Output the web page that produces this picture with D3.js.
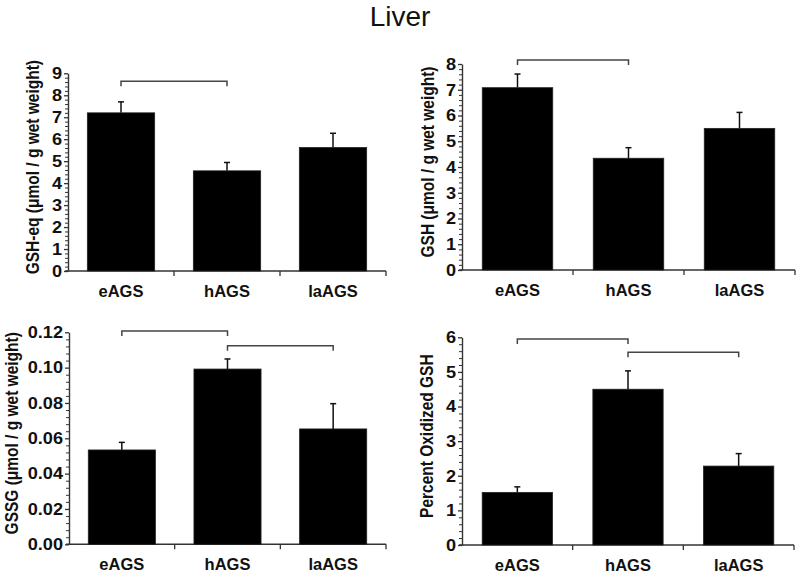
<!DOCTYPE html>
<html><head><meta charset="utf-8">
<script src="https://cdn.jsdelivr.net/npm/d3@7"></script>
<style>body{margin:0;background:#fff} svg{display:block}</style>
</head><body>
<svg id="chart" width="800" height="576"></svg>
<script>
// ---------- data ----------
const title = "Liver";
const categories = ["eAGS", "hAGS", "laAGS"];

const gshEqValues = [7.20, 4.56, 5.62];
const gshEqErrors = [0.50, 0.38, 0.65];
const gshEqTicks = [0, 1, 2, 3, 4, 5, 6, 7, 8, 9];
const gshEqBrackets = [["eAGS", "hAGS", 8.64]];
const gshEqLabel = "GSH-eq (\u03bcmol / g wet weight)";

const gshValues = [7.08, 4.34, 5.50];
const gshErrors = [0.53, 0.41, 0.62];
const gshTicks = [0, 1, 2, 3, 4, 5, 6, 7, 8];
const gshBrackets = [["eAGS", "hAGS", 8.16]];
const gshLabel = "GSH (\u03bcmol / g wet weight)";

const gssgValues = [0.0534, 0.0992, 0.0653];
const gssgErrors = [0.0043, 0.0057, 0.0143];
const gssgTicks = [0.00, 0.02, 0.04, 0.06, 0.08, 0.10, 0.12];
const gssgBrackets = [["eAGS", "hAGS", 0.1207], ["hAGS", "laAGS", 0.1124]];
const gssgLabel = "GSSG (\u03bcmol / g wet weight)";

const pctOxValues = [1.52, 4.50, 2.28];
const pctOxErrors = [0.16, 0.53, 0.36];
const pctOxTicks = [0, 1, 2, 3, 4, 5, 6];
const pctOxBrackets = [["eAGS", "hAGS", 5.95], ["hAGS", "laAGS", 5.57]];
const pctOxLabel = "Percent Oxidized GSH";

// ---------- drawing ----------
const svg = d3.select("#chart");
const FONT = "'Liberation Sans', Arial, Helvetica, sans-serif";
const AXIS = "#333";

svg.append("text")
  .attr("x", 400).attr("y", 26)
  .attr("text-anchor", "middle")
  .attr("font-family", FONT).attr("font-size", 28)
  .attr("fill", "#111")
  .text(title);

function drawPanel(cfg) {
  const {left, right, top, bottom, values, errors, ticks, fmt, brackets, label, labelX} = cfg;
  const g = svg.append("g");
  const x = d3.scaleBand().domain(categories).range([left, right])
    .paddingInner(0.365).paddingOuter(0.1825);
  const y = d3.scaleLinear().domain([0, ticks[ticks.length - 1]]).range([bottom, top]);

  // minor ticks
  const step = ticks[1] - ticks[0];
  const minor = d3.range(0, ticks.length - 1).flatMap(i => [1, 2, 3, 4].map(k => ticks[i] + step * k / 5));
  g.append("g").attr("transform", `translate(${left},0)`)
    .call(d3.axisLeft(y).tickValues(minor).tickSize(3).tickFormat(""))
    .call(a => a.select(".domain").remove())
    .call(a => a.selectAll("line").attr("stroke", AXIS).attr("stroke-width", 1));

  // major axis
  const ya = g.append("g").attr("transform", `translate(${left},0)`)
    .call(d3.axisLeft(y).tickValues(ticks).tickSize(4).tickPadding(3).tickFormat(fmt).tickSizeOuter(0));
  ya.select(".domain").attr("stroke", AXIS).attr("stroke-width", 1.4);
  ya.selectAll("line").attr("stroke", AXIS).attr("stroke-width", 1.3);
  ya.selectAll("text")
    .attr("x", 0)
    .attr("transform", "translate(-6,0) scale(1.1,1)")
    .attr("font-family", FONT).attr("font-size", 16.5)
    .attr("font-weight", "bold").attr("fill", "#111");

  // x axis
  g.append("line").attr("x1", left - 3).attr("x2", right).attr("y1", bottom).attr("y2", bottom)
    .attr("stroke", AXIS).attr("stroke-width", 1.4);
  const bounds = categories.slice(1).map(c => x(c) - x.step() * x.paddingInner() / 2).concat([right]);
  g.selectAll(".xt").data(bounds).join("line")
    .attr("x1", d => d).attr("x2", d => d).attr("y1", bottom).attr("y2", bottom + 5)
    .attr("stroke", AXIS).attr("stroke-width", 1.3);
  g.selectAll(".xl").data(categories).join("text")
    .attr("x", d => x(d) + x.bandwidth() / 2).attr("y", bottom + 26)
    .attr("text-anchor", "middle")
    .attr("font-family", FONT).attr("font-size", 16.5).attr("font-weight", "bold")
    .attr("fill", "#111")
    .text(d => d);

  // error bars
  const data = categories.map((c, i) => ({c, v: values[i], e: errors[i]}));
  g.selectAll(".eb").data(data).join("line")
    .attr("x1", d => x(d.c) + x.bandwidth() / 2).attr("x2", d => x(d.c) + x.bandwidth() / 2)
    .attr("y1", d => y(d.v)).attr("y2", d => y(d.v + d.e))
    .attr("stroke", "#111").attr("stroke-width", 1.5);
  g.selectAll(".ec").data(data).join("line")
    .attr("x1", d => x(d.c) + x.bandwidth() / 2 - 3).attr("x2", d => x(d.c) + x.bandwidth() / 2 + 3)
    .attr("y1", d => y(d.v + d.e)).attr("y2", d => y(d.v + d.e))
    .attr("stroke", "#111").attr("stroke-width", 1.5);

  // bars
  g.selectAll(".bar").data(data).join("rect")
    .attr("x", d => x(d.c)).attr("width", x.bandwidth())
    .attr("y", d => y(d.v)).attr("height", d => y(0) - y(d.v))
    .attr("fill", "#000").attr("stroke", "#222").attr("stroke-width", 0.8);

  // significance brackets
  g.selectAll(".br").data(brackets).join("path")
    .attr("d", d => {
      const x1 = x(d[0]) + x.bandwidth() / 2, x2 = x(d[1]) + x.bandwidth() / 2, yy = y(d[2]);
      return `M${x1},${yy + 5}V${yy}H${x2}V${yy + 5}`;
    })
    .attr("fill", "none").attr("stroke", "#444").attr("stroke-width", 1.5);

  // y title
  g.append("text")
    .attr("transform", `translate(${labelX},${(top + bottom) / 2 - 5}) rotate(-90) scale(1,1.15)`)
    .attr("dy", "0.35em").attr("text-anchor", "middle")
    .attr("font-family", FONT).attr("font-size", 15.5).attr("font-weight", "bold")
    .attr("fill", "#111")
    .text(label);
}

const intFmt = d3.format("d");
const dec2 = d3.format(".2f");

drawPanel({left: 68, right: 386, top: 73.3, bottom: 271, values: gshEqValues, errors: gshEqErrors,
  ticks: gshEqTicks, fmt: intFmt, brackets: gshEqBrackets, label: gshEqLabel, labelX: 33});
drawPanel({left: 462, right: 795, top: 64, bottom: 270, values: gshValues, errors: gshErrors,
  ticks: gshTicks, fmt: intFmt, brackets: gshBrackets, label: gshLabel, labelX: 428});
drawPanel({left: 69, right: 386, top: 332.3, bottom: 544.3, values: gssgValues, errors: gssgErrors,
  ticks: gssgTicks, fmt: dec2, brackets: gssgBrackets, label: gssgLabel, labelX: 12});
drawPanel({left: 462, right: 794, top: 337.3, bottom: 545, values: pctOxValues, errors: pctOxErrors,
  ticks: pctOxTicks, fmt: intFmt, brackets: pctOxBrackets, label: pctOxLabel, labelX: 427});
</script>
</body></html>
